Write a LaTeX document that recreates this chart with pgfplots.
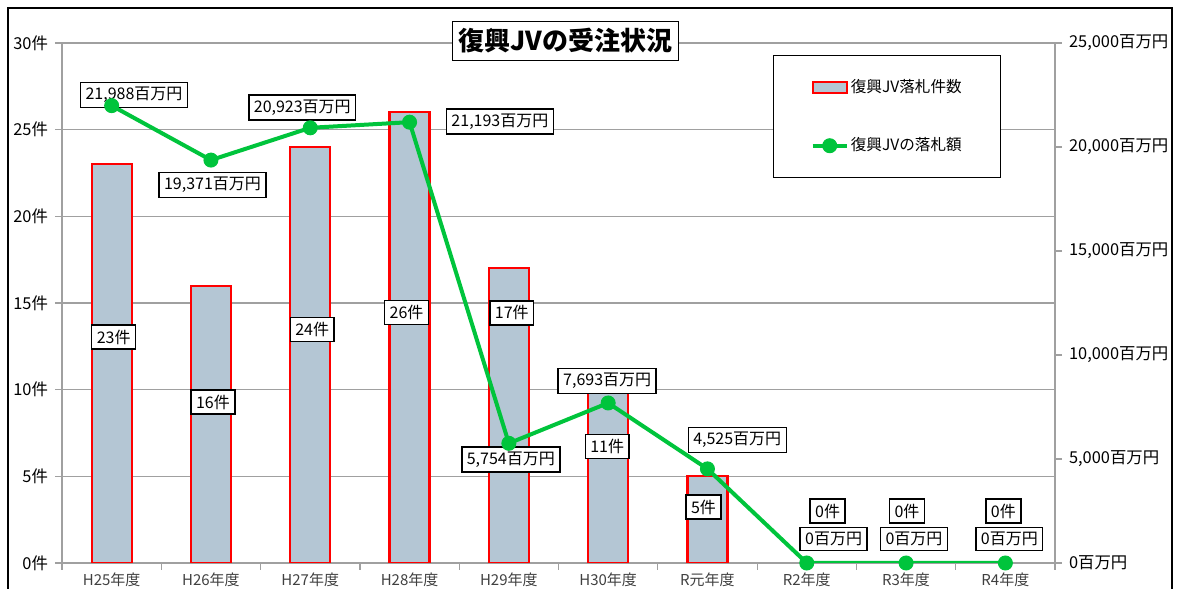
\documentclass[border=0pt]{standalone}
\usepackage{pgfplots}
\pgfplotsset{compat=1.18}
\usepackage{fontspec}
\setmainfont{Noto Sans CJK JP}
\definecolor{barfill}{RGB}{180,198,212}
\definecolor{jvgreen}{RGB}{0,196,60}
\definecolor{gridgray}{RGB}{160,160,160}
\definecolor{ticktext}{RGB}{64,64,64}
\tikzset{
  blabel/.style={draw=black, fill=white, line width=0.7pt, inner xsep=2.5pt, inner ysep=2.3pt, font=\fontsize{8}{9.5}\selectfont},
}
\begin{document}
\begin{tikzpicture}
\useasboundingbox (0pt,0pt) rectangle (589.5pt,294.5pt);
\draw[line width=1pt] (4pt,0pt) -- (4pt,290.5pt) -- (586pt,290.5pt) -- (586pt,0pt);

\begin{axis}[at={(31pt,13pt)}, anchor=south west, scale only axis, width=496.5pt, height=260pt,
  xmin=-0.5, xmax=9.5, ymin=0, ymax=30,
  axis x line*=bottom, axis y line*=left,
  axis line style={-, gridgray, line width=0.6pt},
  xtick={0,...,9},
  xticklabels={H25年度,H26年度,H27年度,H28年度,H29年度,H30年度,R元年度,R2年度,R3年度,R4年度},
  minor xtick={-0.5,0.5,...,9.5},
  every major x tick/.append style={draw=none},
  every minor x tick/.append style={gridgray, line width=0.6pt},
  minor tick length=3.5pt,
  ytick={0,5,...,30},
  tick align=outside, major tick length=3.5pt,
  every major y tick/.append style={gridgray, line width=0.6pt},
  ymajorgrids, grid style={gridgray, line width=0.6pt},
  yticklabel={\pgfmathprintnumber{\tick}件},
  /pgf/number format/assume math mode=true,
  xticklabel style={font=\fontsize{7.5}{9}\selectfont, text=ticktext, yshift=2pt},
  yticklabel style={font=\fontsize{8.2}{9.5}\selectfont, text=black},
]
\addplot[ybar, bar width=20pt, bar shift=0pt, fill=barfill, draw=red, line width=1.1pt]
  coordinates {(0,23) (1,16) (2,24) (3,26) (4,17) (5,11) (6,5)};
\node[blabel] at (axis cs:0.02,13.04) {23件};
\node[blabel] at (axis cs:1.02,9.29) {16件};
\node[blabel] at (axis cs:2.02,13.47) {24件};
\node[blabel] at (axis cs:2.97,14.45) {26件};
\node[blabel] at (axis cs:4.03,14.43) {17件};
\node[blabel] at (axis cs:4.99,6.72) {11件};
\node[blabel] at (axis cs:5.96,3.23) {5件};
\node[blabel] at (axis cs:7.21,3.0) {0件};
\node[blabel] at (axis cs:8.01,3.0) {0件};
\node[blabel] at (axis cs:8.98,3.0) {0件};
\end{axis}

\begin{axis}[at={(31pt,13pt)}, anchor=south west, scale only axis, width=496.5pt, height=260pt,
  xmin=-0.5, xmax=9.5, ymin=0, ymax=25000,
  axis x line=none, axis y line*=right,
  axis line style={-, gridgray, line width=0.6pt},
  ytick={0,5000,...,25000}, scaled y ticks=false,
  tick align=outside, major tick length=3.5pt,
  every major y tick/.append style={gridgray, line width=0.6pt},
  yticklabel={\pgfmathprintnumber{\tick}百万円},
  /pgf/number format/1000 sep={,},
  /pgf/number format/assume math mode=true,
  yticklabel style={font=\fontsize{8.2}{9.5}\selectfont, text=black},
  legend cell align=left,
  legend style={at={(rel axis cs:0.716,0.977)}, anchor=north west, draw=black, line width=0.7pt,
    minimum width=113.5pt, minimum height=61pt, row sep=19pt,
    nodes={minimum width=0pt, minimum height=0pt, inner sep=1pt},
    font=\fontsize{7.8}{9}\selectfont},
]
\addlegendimage{area legend, fill=barfill, draw=red, line width=1.1pt}
\addlegendentry{復興JV落札件数}
\addplot[jvgreen, line width=2pt, mark=*, mark size=3.5pt, mark options={fill=jvgreen, draw=jvgreen, line width=0.5pt}]
  coordinates {(0,21988) (1,19371) (2,20923) (3,21193) (4,5754) (5,7693) (6,4525) (7,0) (8,0) (9,0)};
\addlegendentry{復興JVの落札額}
\node[blabel] at (axis cs:0.225,22500) {21,988百万円};
\node[blabel] at (axis cs:1.016,18173) {19,371百万円};
\node[blabel] at (axis cs:1.92,21899) {20,923百万円};
\node[blabel] at (axis cs:3.91,21226) {21,193百万円};
\node[blabel] at (axis cs:4.02,4976) {5,754百万円};
\node[blabel] at (axis cs:4.99,8750) {7,693百万円};
\node[blabel] at (axis cs:6.30,5915) {4,525百万円};
\node[blabel] at (axis cs:7.27,1154) {0百万円};
\node[blabel] at (axis cs:8.08,1154) {0百万円};
\node[blabel] at (axis cs:9.04,1154) {0百万円};
\end{axis}

\node[draw=black, fill=white, line width=0.8pt, inner xsep=3pt, inner ysep=3.5pt,
  font=\bfseries\fontsize{13}{15}\selectfont] at (282.75pt,274pt) {復興JVの受注状況};
\end{tikzpicture}
\end{document}
